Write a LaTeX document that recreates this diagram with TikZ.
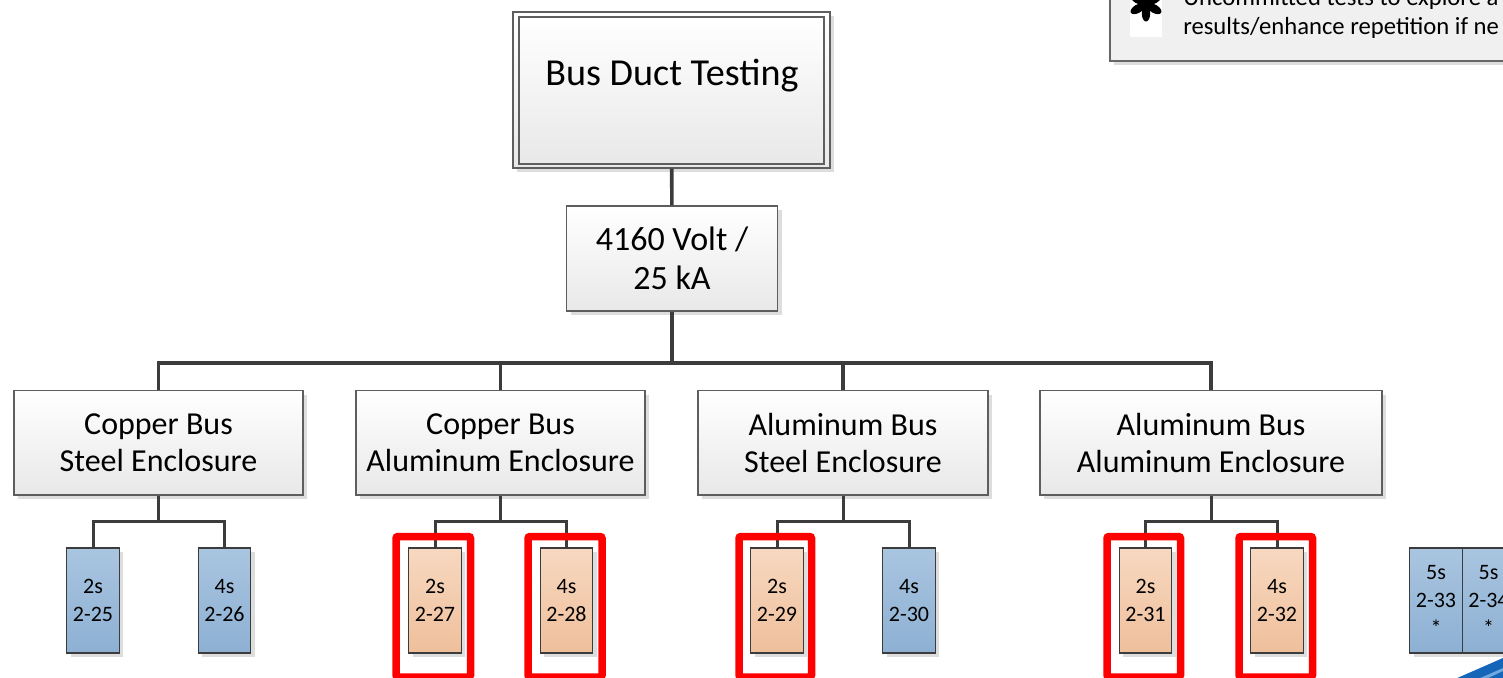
\documentclass[tikz,border=0pt]{standalone}
\usepackage{fontspec}
\setmainfont{Carlito}
\usetikzlibrary{shadows}
\newdimen\pxu \pxu=0.75pt
\definecolor{linkgray}{HTML}{3C3C3C}
\definecolor{framegray}{HTML}{5E5E5E}
\definecolor{panelbot}{HTML}{E8E8E8}
\definecolor{shadowgray}{HTML}{DDDDDD}
\definecolor{steelblueA}{HTML}{A9C5E0}
\definecolor{steelblueB}{HTML}{8DB0D3}
\definecolor{peachA}{HTML}{F7D8C0}
\definecolor{peachB}{HTML}{EFBF9B}
\definecolor{legendfill}{HTML}{F0F0F0}
\definecolor{logoblue}{HTML}{1565B8}
\definecolor{logolight}{HTML}{6FA8DC}

\tikzset{
  box shadow/.style={drop shadow={shadow xshift=4\pxu, shadow yshift=-4\pxu, fill=shadowgray, opacity=1}},
  panel/.style={rectangle, draw=framegray, line width=1.1\pxu, top color=white,
    bottom color=panelbot, inner sep=0pt, align=center},
  midpanel/.style={panel, box shadow, minimum height=104.5\pxu,
    font=\fontsize{24}{27.75}\selectfont},
  testbox/.style={rectangle, draw=linkgray, line width=1.3\pxu, minimum width=52.5\pxu,
    minimum height=105\pxu, inner sep=0pt, box shadow, align=center,
    font=\fontsize{16.5}{20.8}\selectfont},
  bluebox/.style={testbox, top color=steelblueA, bottom color=steelblueB},
  peachbox/.style={testbox, top color=peachA, bottom color=peachB},
  link/.style={draw=linkgray, line width=3.6\pxu},
  sublink/.style={draw=linkgray, line width=3\pxu},
  redframe/.style={draw=red, line width=7.5\pxu, rounded corners=2\pxu},
  legendtext/.style={anchor=base west, inner sep=0pt, font=\fontsize{18.5}{22}\selectfont},
}

\begin{document}
\begin{tikzpicture}[x=0.75pt, y=-0.75pt]
\useasboundingbox (0,0) rectangle (1503,678);
\clip (0,0) rectangle (1503,678);

% ---- legend panel (top right) ----
\node[rectangle, draw=gray!80!black, line width=1.1\pxu, fill=legendfill, box shadow,
      minimum width=410\pxu, minimum height=81\pxu] (legend) at (1315,20.5) {};
\node[rectangle, fill=white, minimum width=32\pxu, minimum height=42\pxu, inner sep=0pt]
      (starbg) at (1146,16) {};
\coordinate (star) at (1146,4);
\foreach \a in {90,30,-30,-90,-150,150}
  \fill[black, shift={(star)}, rotate=\a] (9.5,0) ellipse [x radius=8, y radius=4.2];
\fill[black] (star) circle [radius=3.5];
\node[legendtext] (legend1) at (1183,5) {Uncommitted tests to explore a};
\node[legendtext] (legend2) at (1183,34) {results/enhance repetition if ne};

% ---- title ----
\node[panel, box shadow, minimum width=317\pxu, minimum height=156\pxu] (top) at (671.5,90) {};
\node[panel, minimum width=305\pxu, minimum height=147\pxu] (topinner) at (671.5,90.5) {};
\node[anchor=base, inner sep=0pt, font=\fontsize{28.6}{33}\selectfont] (title) at (672,85) {Bus Duct Testing};

% ---- rating ----
\node[panel, box shadow, minimum width=211\pxu, minimum height=105\pxu,
      font=\fontsize{25.5}{29.5}\selectfont] (volt) at (672,258.5) {4160 Volt /\\25 kA};

% ---- configurations ----
\node[midpanel, minimum width=289\pxu] (m1) at (158.5,442.75) {Copper Bus\\Steel Enclosure};
\node[midpanel, minimum width=289\pxu] (m2) at (500.5,442.75) {Copper Bus\\Aluminum Enclosure};
\node[midpanel, minimum width=290\pxu] (m3) at (843,442.75) {Aluminum Bus\\Steel Enclosure};
\node[midpanel, minimum width=342\pxu] (m4) at (1211,442.75) {Aluminum Bus\\Aluminum Enclosure};

% ---- individual tests ----
\node[bluebox]  (c25) at (93,600.5)     {2s\\2-25};
\node[bluebox]  (c26) at (224.5,600.5)  {4s\\2-26};
\node[peachbox] (c27) at (435,600.5)    {2s\\2-27};
\node[peachbox] (c28) at (566.5,600.5)  {4s\\2-28};
\node[peachbox] (c29) at (777,600.5)    {2s\\2-29};
\node[bluebox]  (c30) at (909,600.5)    {4s\\2-30};
\node[peachbox] (c31) at (1145.5,600.5) {2s\\2-31};
\node[peachbox] (c32) at (1277,600.5)   {4s\\2-32};
\node[bluebox]  (s33) at (1436,600.5)   {5s\\2-33\\*};
\node[bluebox]  (s34) at (1488.5,600.5) {5s\\2-34\\*};

% ---- tree connectors ----
\draw[link] (top) -- (volt);
\coordinate (bus) at (672,363);
\draw[link] (volt) -- (bus);
\draw[link] (bus) -| (m1);
\draw[link] (bus) -| (m2);
\draw[link] (bus) -| (m3);
\draw[link] (bus) -| (m4);

\coordinate (j1) at (158.5,521.7);
\coordinate (j2) at (500.5,521.7);
\coordinate (j3) at (843,521.7);
\coordinate (j4) at (1211,521.7);
\draw[sublink] (m1) -- (j1);
\draw[sublink] (j1) -| (c25);
\draw[sublink] (j1) -| (c26);
\draw[sublink] (m2) -- (j2);
\draw[sublink] (j2) -| (c27);
\draw[sublink] (j2) -| (c28);
\draw[sublink] (m3) -- (j3);
\draw[sublink] (j3) -| (c29);
\draw[sublink] (j3) -| (c30);
\draw[sublink] (m4) -- (j4);
\draw[sublink] (j4) -| (c31);
\draw[sublink] (j4) -| (c32);

% ---- highlight frames ----
\draw[redframe] (396,536.5)    rectangle (470.5,677);
\draw[redframe] (528,536.5)    rectangle (602,677);
\draw[redframe] (739,536.5)    rectangle (811.5,677);
\draw[redframe] (1107,536.5)   rectangle (1180.5,677);
\draw[redframe] (1239,536.5)   rectangle (1312.5,677);

% ---- logo corner ----
\fill[logoblue] (1455,679) -- (1503,658) -- (1503,679) -- cycle;
\fill[logolight] (1478,679) -- (1503,668) -- (1503,671) -- (1486,679) -- cycle;
\end{tikzpicture}
\end{document}
